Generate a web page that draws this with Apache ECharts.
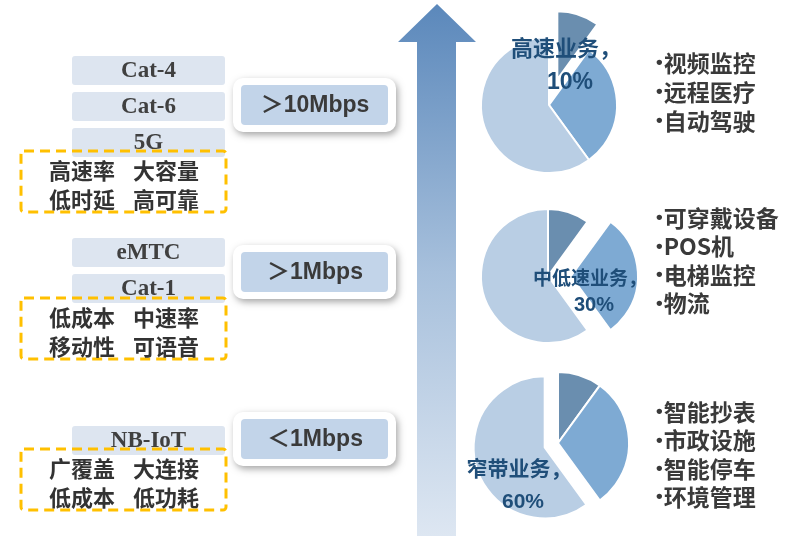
<!DOCTYPE html>
<html>
<head>
<meta charset="utf-8">
<script src="https://cdn.jsdelivr.net/npm/echarts@6/dist/echarts.min.js"></script>
<style>
  html, body { margin: 0; padding: 0; background: #ffffff; }
  #chart { width: 785px; height: 536px; }
</style>
</head>
<body>
<div id="chart"></div>
<script>
// ---- content ----
const techGroups = [['Cat-4', 'Cat-6', '5G'], ['eMTC', 'Cat-1'], ['NB-IoT']];
const featureLines = [
  [['高速率', '大容量'], ['低时延', '高可靠']],
  [['低成本', '中速率'], ['移动性', '可语音']],
  [['广覆盖', '大连接'], ['低成本', '低功耗']]
];
const speedLabels = ['＞10Mbps', '＞1Mbps', '＜1Mbps'];
const serviceNames = ['高速业务', '中低速业务', '窄带业务'];
const serviceShares = [10, 30, 60];
const applicationLists = [
  ['视频监控', '远程医疗', '自动驾驶'],
  ['可穿戴设备', 'POS机', '电梯监控', '物流'],
  ['智能抄表', '市政设施', '智能停车', '环境管理']
];

// ---- layout & style ----
const sliceColors = ['#6A8EAF', '#7EAAD3', '#B9CEE4'];
const CJK = '"Noto Sans CJK SC", sans-serif';
const SERIF = '"Liberation Serif", "DejaVu Serif", serif';
const NARROW = '"Liberation Sans Narrow", "Liberation Sans", "Noto Sans CJK SC", sans-serif';

const techTops = [[56, 92, 128], [238, 274], [426]];
const dashTops = [151, 298, 449];
const speedTops = [78, 245, 412];

const pieLayout = [
  { center: [549, 105], radius: 68, offset: 27, labelX: 566, labelY: [48, 83], nameSize: 22, valSize: 23 },
  { center: [548, 276], radius: 67, offset: 23, labelX: 590, labelY: [278, 305], nameSize: 19, valSize: 20 },
  { center: [558, 443], radius: 71, offset: 14, labelX: 519, labelY: [468, 502], nameSize: 21, valSize: 21 }
];
const listTops = [63, 218, 412];
const listStep = [29, 28.5, 28.4];

const graphics = [];

// rising arrow
graphics.push({
  type: 'polygon',
  z: 0,
  shape: { points: [[437, 4], [476, 42], [456, 42], [456, 540], [417, 540], [417, 42], [398, 42]] },
  style: {
    fill: new echarts.graphic.LinearGradient(0, 0, 0, 1, [
      { offset: 0, color: '#5B88BB' },
      { offset: 0.5, color: '#A7C0DC' },
      { offset: 1, color: '#DEE7F2' }
    ])
  }
});

// left column: technologies, feature boxes, speed boxes
techGroups.forEach((group, g) => {
  group.forEach((tech, k) => {
    const top = techTops[g][k];
    graphics.push({
      type: 'rect', z: 1,
      shape: { x: 72, y: top, width: 153, height: 29, r: 3 },
      style: { fill: '#DDE5F0' }
    });
    graphics.push({
      type: 'text', z: 2,
      x: 148.5, y: top + 15,
      style: {
        text: tech, fill: '#404040', font: 'bold 23px ' + SERIF,
        align: 'center', verticalAlign: 'middle'
      }
    });
  });

  const dTop = dashTops[g];
  graphics.push({
    type: 'rect', z: 3,
    shape: { x: 21, y: dTop, width: 205, height: 61, r: 3 },
    style: { fill: 'rgba(0,0,0,0)', stroke: '#FFC000', lineWidth: 3, lineDash: [10, 6] }
  });
  featureLines[g].forEach((pair, line) => {
    const cy = dTop + 20 + line * 29;
    [82, 166].forEach((cx, w) => {
      graphics.push({
        type: 'text', z: 4,
        x: cx, y: cy,
        style: {
          text: pair[w], fill: '#333333', font: 'bold 22px ' + CJK,
          align: 'center', verticalAlign: 'middle'
        }
      });
    });
  });

  const sTop = speedTops[g];
  graphics.push({
    type: 'rect', z: 1,
    shape: { x: 233, y: sTop, width: 163, height: 54, r: 10 },
    style: {
      fill: '#ffffff', shadowBlur: 7, shadowColor: 'rgba(0,0,0,0.35)',
      shadowOffsetX: 2, shadowOffsetY: 3
    }
  });
  graphics.push({
    type: 'rect', z: 2,
    shape: { x: 241, y: sTop + 7, width: 147, height: 40, r: 4 },
    style: { fill: '#C2D4E9' }
  });
  graphics.push({
    type: 'text', z: 3,
    x: 315, y: sTop + 28,
    style: {
      text: speedLabels[g], fill: '#3A3A3A', font: 'bold 23px ' + NARROW,
      align: 'center', verticalAlign: 'middle'
    }
  });
});

// service labels and application lists
serviceNames.forEach((name, i) => {
  const p = pieLayout[i];
  graphics.push({
    type: 'text', z: 20,
    x: p.labelX, y: p.labelY[0],
    style: {
      text: name + '，', fill: '#1F4E79', font: 'bold ' + p.nameSize + 'px ' + CJK,
      align: 'center', verticalAlign: 'middle'
    }
  });
  graphics.push({
    type: 'text', z: 20,
    x: p.labelX + 4, y: p.labelY[1],
    style: {
      text: serviceShares[i] + '%', fill: '#1F4E79', font: 'bold ' + p.valSize + 'px ' + NARROW,
      align: 'center', verticalAlign: 'middle'
    }
  });
  applicationLists[i].forEach((app, k) => {
    graphics.push({
      type: 'text', z: 20,
      x: 656, y: listTops[i] + k * listStep[i],
      style: {
        text: '{b|•}{t|' + app + '}',
        align: 'left', verticalAlign: 'middle',
        rich: {
          b: { fill: '#3A3A3A', font: 'bold 19px "Liberation Sans", sans-serif', padding: [0, 1, 0, 0] },
          t: { fill: '#3A3A3A', font: 'bold 23px ' + CJK }
        }
      }
    });
  });
});

// one pie per service tier; the tier's own slice is pulled out
const series = pieLayout.map((p, i) => ({
  type: 'pie',
  center: p.center,
  radius: p.radius,
  startAngle: 90,
  clockwise: true,
  selectedMode: 'single',
  selectedOffset: p.offset,
  silent: true,
  label: { show: false },
  labelLine: { show: false },
  itemStyle: { borderColor: '#ffffff', borderWidth: 2 },
  data: serviceShares.map((v, j) => ({
    value: v,
    name: serviceNames[j],
    selected: j === i,
    itemStyle: { color: sliceColors[j] }
  }))
}));

const chart = echarts.init(document.getElementById('chart'), null, { renderer: 'canvas' });
chart.setOption({
  animation: false,
  backgroundColor: '#ffffff',
  graphic: { elements: graphics },
  series: series
});
</script>
</body>
</html>
